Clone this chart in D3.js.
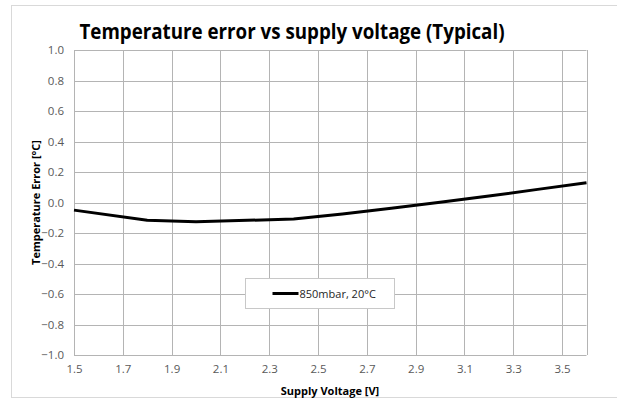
<!DOCTYPE html>
<html>
<head>
<meta charset="utf-8">
<script src="https://cdn.jsdelivr.net/npm/d3@7"></script>
<style>
  body { margin: 0; background: #fff; }
  text { font-family: "Open Sans", "Liberation Sans", sans-serif; }
</style>
</head>
<body>
<div id="chart"></div>
<script>
// supply voltage [V] and temperature error [°C]
let voltage = [1.5, 1.8, 2.0, 2.4, 2.6, 2.8, 3.0, 3.2, 3.4, 3.6];
let tempError = [-0.05, -0.117, -0.127, -0.108, -0.076, -0.037, 0.001, 0.042, 0.086, 0.13];
let xTicks = [1.5, 1.7, 1.9, 2.1, 2.3, 2.5, 2.7, 2.9, 3.1, 3.3, 3.5];
let yTicks = [-1.0, -0.8, -0.6, -0.4, -0.2, 0.0, 0.2, 0.4, 0.6, 0.8, 1.0];
let seriesName = "850mbar, 20°C";

let width = 617, height = 402;
let margin = {left: 74, right: 30.5, top: 50, bottom: 47};

let svg = d3.select("#chart").append("svg")
    .attr("width", width)
    .attr("height", height);

// chart area frame
svg.append("rect")
    .attr("x", 11.5).attr("y", 5.5)
    .attr("width", 620).attr("height", 392)
    .attr("fill", "none")
    .attr("stroke", "#d9d9d9");

let x = d3.scaleLinear()
    .domain([1.5, 3.6])
    .range([margin.left, width - margin.right]);

let y = d3.scaleLinear()
    .domain([-1, 1])
    .range([height - margin.bottom, margin.top]);

// gridlines
svg.append("g")
    .selectAll("line")
    .data(yTicks)
    .join("line")
    .attr("x1", x(1.5)).attr("x2", x(3.6))
    .attr("y1", d => Math.round(y(d)) + 0.5)
    .attr("y2", d => Math.round(y(d)) + 0.5)
    .attr("stroke", "#b4b4b4");

svg.append("g")
    .selectAll("line")
    .data(xTicks.concat([3.6]))
    .join("line")
    .attr("x1", d => Math.round(x(d)) + 0.5)
    .attr("x2", d => Math.round(x(d)) + 0.5)
    .attr("y1", y(1)).attr("y2", y(-1))
    .attr("stroke", "#b4b4b4");

// axes (labels only)
let xAxis = svg.append("g")
    .attr("transform", "translate(0," + y(-1) + ")")
    .call(d3.axisBottom(x).tickValues(xTicks).tickFormat(d3.format(".1f")).tickSize(0).tickPadding(10));
xAxis.select(".domain").remove();
xAxis.selectAll("text").attr("font-size", 11.5).attr("fill", "#595959")
    .style("font-family", "'Open Sans', sans-serif");

let yAxis = svg.append("g")
    .attr("transform", "translate(" + x(1.5) + ",0)")
    .call(d3.axisLeft(y).tickValues(yTicks).tickFormat(d3.format(".1f")).tickSize(0).tickPadding(10));
yAxis.select(".domain").remove();
yAxis.selectAll("text").attr("font-size", 11.5).attr("fill", "#595959")
    .style("font-family", "'Open Sans', sans-serif");

// data line
let points = voltage.map((v, i) => [v, tempError[i]]);
let line = d3.line()
    .x(d => x(d[0]))
    .y(d => y(d[1]));

svg.append("path")
    .datum(points)
    .attr("d", line)
    .attr("fill", "none")
    .attr("stroke", "#000")
    .attr("stroke-width", 3)
    .attr("stroke-linejoin", "round");

// title
svg.append("text")
    .attr("x", 292).attr("y", 39)
    .attr("text-anchor", "middle")
    .attr("font-size", 21)
    .attr("font-weight", "bold")
    .attr("fill", "#000")
    .attr("textLength", 425)
    .attr("lengthAdjust", "spacingAndGlyphs")
    .text("Temperature error vs supply voltage (Typical)");

// axis titles
svg.append("text")
    .attr("x", 330).attr("y", 395)
    .attr("text-anchor", "middle")
    .attr("font-size", 11)
    .attr("font-weight", "bold")
    .attr("fill", "#000")
    .text("Supply Voltage [V]");

svg.append("text")
    .attr("transform", "translate(40," + y(0) + ") rotate(-90)")
    .attr("text-anchor", "middle")
    .attr("font-size", 11)
    .attr("font-weight", "bold")
    .attr("fill", "#000")
    .text("Temperature Error [°C]");

// legend
let legend = svg.append("g").attr("transform", "translate(245.5,278.5)");
legend.append("rect")
    .attr("width", 149).attr("height", 30)
    .attr("fill", "#fff")
    .attr("stroke", "#c8c8c8");
legend.append("line")
    .attr("x1", 27).attr("x2", 53)
    .attr("y1", 15).attr("y2", 15)
    .attr("stroke", "#000")
    .attr("stroke-width", 3);
legend.append("text")
    .attr("x", 54).attr("y", 19)
    .attr("font-size", 11)
    .attr("fill", "#262626")
    .text(seriesName);
</script>
</body>
</html>
